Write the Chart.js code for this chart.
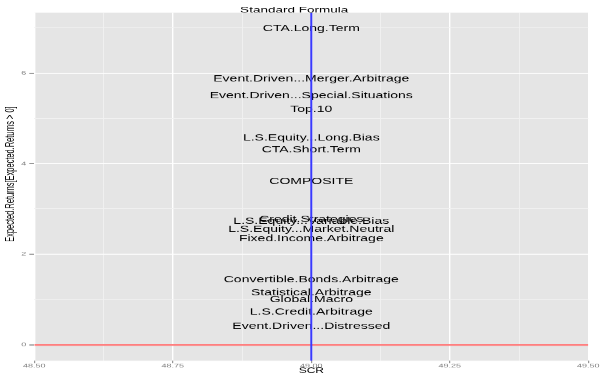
<!DOCTYPE html>
<html>
<head>
<meta charset="utf-8">
<script src="https://cdn.jsdelivr.net/npm/chart.js@4.4.1/dist/chart.umd.min.js"></script>
<style>
  html, body { margin: 0; padding: 0; background: #fff; overflow: hidden; width: 600px; height: 373px; }
  /* the plot is laid out on a square canvas, then flattened to the page height */
  #wrap { width: 600px; height: 600px; transform: scaleY(0.62167); transform-origin: 0 0; }
  canvas { display: block; }
</style>
</head>
<body>
<div id="wrap"><canvas id="c" width="600" height="600"></canvas></div>
<script>
// Hedge fund strategy indices: expected return vs. standard-formula SCR
const strategies = [
  'CTA.Long.Term',
  'Event.Driven...Merger.Arbitrage',
  'Event.Driven...Special.Situations',
  'Top.10',
  'L.S.Equity...Long.Bias',
  'CTA.Short.Term',
  'COMPOSITE',
  'Credit.Strategies',
  'L.S.Equity...Variable.Bias',
  'L.S.Equity...Market.Neutral',
  'Fixed.Income.Arbitrage',
  'Convertible.Bonds.Arbitrage',
  'Statistical.Arbitrage',
  'Global.Macro',
  'L.S.Credit.Arbitrage',
  'Event.Driven...Distressed'
];
const expectedReturns = [6.98, 5.86, 5.50, 5.19, 4.56, 4.30, 3.60, 2.77, 2.73, 2.55, 2.34, 1.43, 1.15, 0.99, 0.72, 0.41];
const scr = [49, 49, 49, 49, 49, 49, 49, 49, 49, 49, 49, 49, 49, 49, 49, 49];

// reference lines
const scrLine = 49;
const zeroLine = 0;

// axis ranges and breaks
const xMin = 48.5, xMax = 49.5;
const yMin = -0.35, yMax = 7.33;
const xMajorTicks = [48.5, 48.75, 49, 49.25, 49.5];
const xTickLabels = ['48.50', '48.75', '49.00', '49.25', '49.50'];
const xMinorTicks = [48.625, 48.875, 49.125, 49.375];
const yMajorTicks = [0, 2, 4, 6];
const yTickLabels = ['0', '2', '4', '6'];
const yMinorTicks = [1, 3, 5, 7];

const FONT = '"Liberation Sans", Arial, Helvetica, sans-serif';

function isMajor(list, v) { return list.some(m => Math.abs(m - v) < 1e-9); }
function labelFor(majors, labels, v) {
  const i = majors.findIndex(m => Math.abs(m - v) < 1e-9);
  return i >= 0 ? labels[i] : '';
}

const panelBackground = {
  id: 'panelBackground',
  beforeDraw(chart) {
    const { ctx, chartArea: a } = chart;
    ctx.save();
    ctx.fillStyle = '#e5e5e5';
    ctx.fillRect(a.left, a.top, a.right - a.left, a.bottom - a.top);
    ctx.restore();
  }
};

const fundLabels = {
  id: 'fundLabels',
  beforeDatasetsDraw(chart) {
    const meta = chart.getDatasetMeta(0);
    const ctx = chart.ctx;
    ctx.save();
    ctx.font = '14px ' + FONT;
    ctx.fillStyle = '#000';
    ctx.textAlign = 'center';
    ctx.textBaseline = 'middle';
    meta.data.forEach((pt, i) => ctx.fillText(strategies[i], pt.x, pt.y));
    ctx.restore();
  }
};

const yAxisTitle = {
  id: 'yAxisTitle',
  afterDraw(chart) {
    const ctx = chart.ctx;
    ctx.save();
    ctx.translate(11, 280);
    ctx.rotate(-Math.PI / 2);
    ctx.font = '12px ' + FONT;
    ctx.fillStyle = '#000';
    ctx.textAlign = 'center';
    ctx.textBaseline = 'middle';
    ctx.fillText('Expected.Returns[Expected.Returns > 0]', 0, 0);
    ctx.restore();
  }
};

new Chart(document.getElementById('c'), {
  type: 'scatter',
  data: {
    datasets: [
      {
        label: 'strategies',
        data: strategies.map((s, i) => ({ x: scr[i], y: expectedReturns[i] })),
        pointRadius: 0,
        pointHoverRadius: 0,
        showLine: false,
        order: 3
      },
      {
        label: 'scr',
        type: 'line',
        data: [{ x: scrLine, y: yMin }, { x: scrLine, y: yMax }],
        borderColor: '#3a3aff',
        borderWidth: 2,
        pointRadius: 0,
        fill: false,
        order: 1
      },
      {
        label: 'zero',
        type: 'line',
        data: [{ x: xMin, y: zeroLine }, { x: xMax, y: zeroLine }],
        borderColor: '#ff7f7f',
        borderWidth: 3.2,
        pointRadius: 0,
        fill: false,
        order: 2
      }
    ]
  },
  options: {
    responsive: false,
    devicePixelRatio: 1,
    animation: false,
    events: [],
    layout: { padding: { left: 0, right: 11.7, top: 0, bottom: 0 } },
    plugins: {
      legend: { display: false },
      tooltip: { enabled: false },
      title: {
        display: true,
        text: 'Standard Formula',
        color: '#000',
        font: { family: FONT, size: 13.5, weight: 'normal', lineHeight: 0.65 },
        padding: { top: 11.7, bottom: 0 }
      }
    },
    scales: {
      x: {
        type: 'linear',
        min: xMin,
        max: xMax,
        afterBuildTicks: s => { s.ticks = xMajorTicks.concat(xMinorTicks).sort((a, b) => a - b).map(v => ({ value: v })); },
        afterFit: s => { s.height = 19.8; },
        border: { display: false },
        grid: {
          color: c => isMajor(xMajorTicks, c.tick.value) ? '#ffffff' : '#f2f2f2',
          lineWidth: c => isMajor(xMajorTicks, c.tick.value) ? 1.4 : 0.8,
          tickColor: c => isMajor(xMajorTicks, c.tick.value) ? '#7f7f7f' : 'rgba(0,0,0,0)',
          tickLength: 4,
          tickWidth: 1
        },
        ticks: {
          callback: v => labelFor(xMajorTicks, xTickLabels, v),
          color: '#7f7f7f',
          font: { family: FONT, size: 9, lineHeight: 1.2 },
          padding: -1.5,
          maxRotation: 0,
          autoSkip: false
        },
        title: {
          display: true,
          text: 'SCR',
          color: '#000',
          font: { family: FONT, size: 12, lineHeight: 1 },
          padding: { top: 0, bottom: -2.8 }
        }
      },
      y: {
        type: 'linear',
        min: yMin,
        max: yMax,
        afterBuildTicks: s => { s.ticks = yMajorTicks.concat(yMinorTicks).sort((a, b) => a - b).map(v => ({ value: v })); },
        afterFit: s => { s.width = 34.3; },
        border: { display: false },
        grid: {
          color: c => isMajor(yMajorTicks, c.tick.value) ? '#ffffff' : '#f2f2f2',
          lineWidth: c => isMajor(yMajorTicks, c.tick.value) ? 1.8 : 1.1,
          tickColor: c => isMajor(yMajorTicks, c.tick.value) ? '#7f7f7f' : 'rgba(0,0,0,0)',
          tickLength: 5,
          tickWidth: 1.6
        },
        ticks: {
          callback: v => labelFor(yMajorTicks, yTickLabels, v),
          color: '#7f7f7f',
          font: { family: FONT, size: 9 },
          padding: 3,
          autoSkip: false
        },
        title: { display: false }
      }
    }
  },
  plugins: [panelBackground, fundLabels, yAxisTitle]
});
</script>
</body>
</html>
